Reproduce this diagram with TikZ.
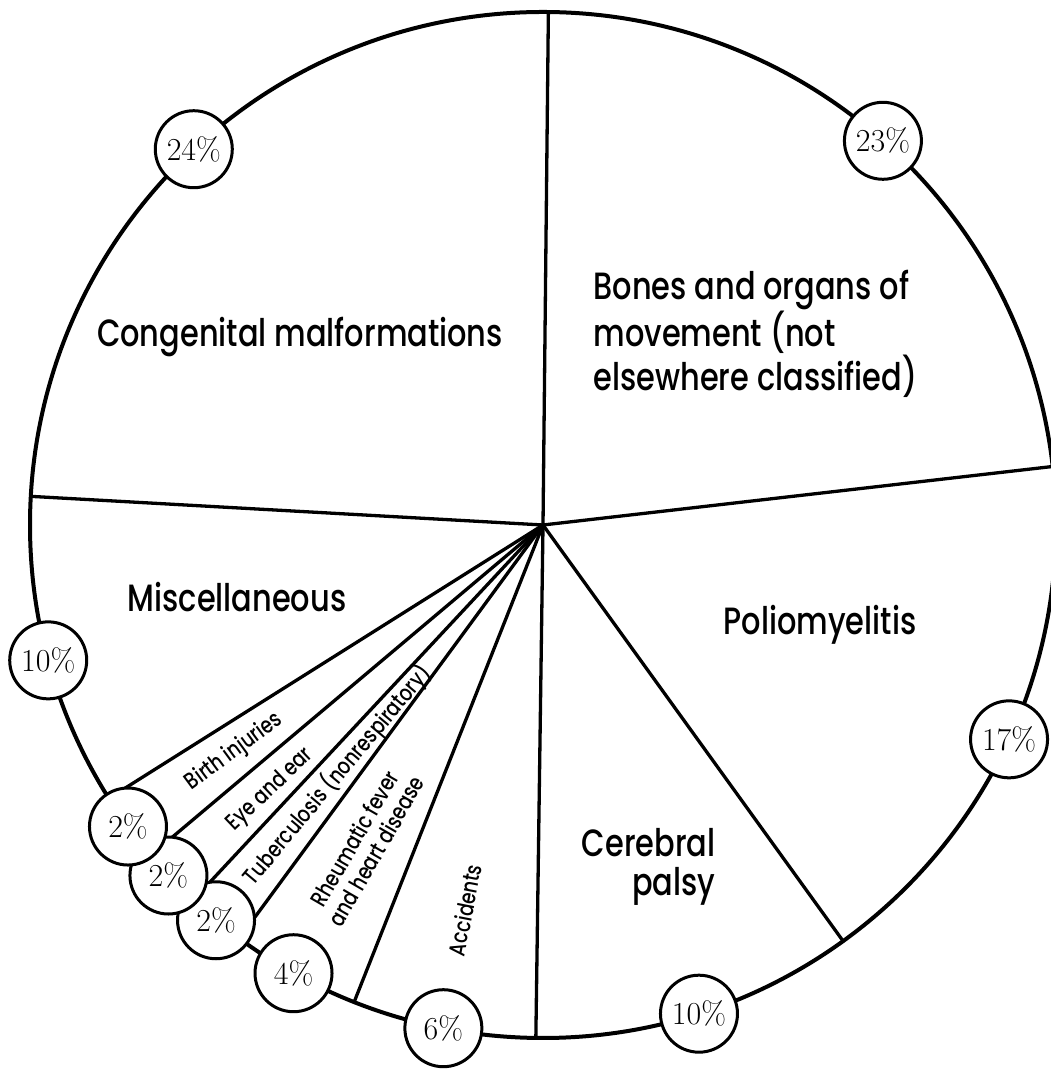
\documentclass[tikz,border=0pt]{standalone}
\usepackage{fontspec}
\usetikzlibrary{calc}
\newfontfamily\labfont[FakeStretch=0.8,UprightFont={* Medium}]{Poppins}
\begin{document}
\begin{tikzpicture}[x=1pt,y=1pt,
  rim/.style={line width=4pt},
  spoke/.style={line width=3.3pt,line cap=round},
  pct/.style={circle,draw,line width=3pt,fill=white,minimum size=77pt,inner sep=0pt,font=\fontsize{32}{32}\selectfont},
  big/.style={font=\labfont\fontsize{38}{39}\selectfont},
  small/.style={font=\labfont\fontsize{23}{25}\selectfont,align=center}]
\useasboundingbox (0,0) rectangle (1050,1070);
\coordinate (O) at (543,545);
\def\R{513}
\draw[rim] (O) circle (\R);
\foreach \a/\n in {89.4/t,6.55/bp,-54.2/pc,-90.8/ca,-111.6/ar,-126.3/rt,-133/te,-139.9/eb,-147.8/bm,176.8/mc}{
  \coordinate (e\n) at ($(O)+(\a:\R)$);
  \draw[spoke] (O) -- (e\n);
}
\node[pct] (p24) at ($(O)+(132.9:\R)$) {24\%};
\node[pct] (p23) at ($(O)+(48.5:\R)$) {23\%};
\node[pct] (p17) at ($(O)+(-24.7:\R)$) {17\%};
\node[pct] (p10b) at ($(O)+(-72.3:\R)$) {10\%};
\node[pct] (p6) at ($(O)+(-101.2:\R)$) {6\%};
\node[pct] (p4) at ($(O)+(-119.1:\R)$) {4\%};
\node[pct] (p2c) at ($(O)+(-129.6:\R)$) {2\%};
\node[pct] (p2b) at ($(O)+(-136.9:\R)$) {2\%};
\node[pct] (p2a) at ($(O)+(-144.0:\R)$) {2\%};
\node[pct] (p10l) at ($(O)+(-164.7:\R)$) {10\%};
\node[big] (cong) at (300,733) {Congenital malformations};
\node[big,align=left,anchor=west] (bones) at (590,736) {Bones and organs of\\movement (not\\elsewhere classified)};
\node[big] (misc) at (237,473) {Miscellaneous};
\node[big] (polio) at (820,445) {Poliomyelitis};
\node[big,align=right,anchor=east] (cp) at (719,203) {Cerebral\\palsy};
\node[small,rotate=36.3] (birth) at ($(O)+(-143.7:383)$) {Birth injuries};
\node[small,rotate=43.5] (eye) at ($(O)+(-135.8:380)$) {Eye and ear};
\node[small,rotate=50] (tb) at ($(O)+(-129.5:324)$) {Tuberculosis (nonrespiratory)};
\node[small,rotate=60] (rh) at ($(O)+(-119.1:366)$) {Rheumatic fever\\and heart disease};
\node[small,rotate=79] (acc) at ($(O)+(-101.5:393)$) {Accidents};
\end{tikzpicture}
\end{document}
